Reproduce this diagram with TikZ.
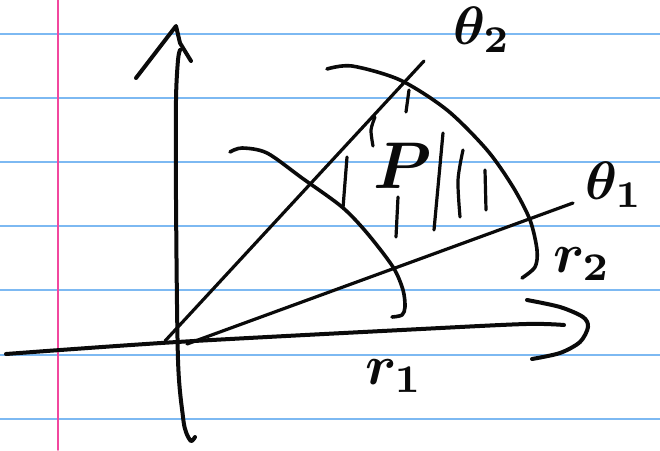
\documentclass[tikz,border=0pt]{standalone}
\usetikzlibrary{calc}
\definecolor{nbInk}{HTML}{0A0A0A}
\definecolor{nbRule}{HTML}{7DB9F2}
\definecolor{nbMargin}{HTML}{F2479E}
\tikzset{
 sketch/.style={x=1pt,y=-1pt,line cap=round,line join=round},
 rule/.style={draw=nbRule,line width=1.6pt},
 margin/.style={draw=nbMargin,line width=1.8pt},
 axis/.style={draw=nbInk,line width=4pt},
 ray/.style={draw=nbInk,line width=3.2pt},
 radius arc/.style={draw=nbInk,line width=3.6pt},
 hatch/.style={draw=nbInk,line width=3.2pt},
 hand/.style={font=\normalsize\boldmath,text=nbInk,inner sep=0pt},
 anglelabel/.style={hand,scale=5.4,transform shape},
 radiuslabel/.style={hand,scale=5.6,transform shape},
 regionlabel/.style={hand,scale=6.6,transform shape}
}

\begin{document}
\begin{tikzpicture}[sketch]
 \fill[white] (0,0) rectangle (660,450);
 \useasboundingbox (0,0) rectangle (660,450);
 % ruled paper
 \foreach \y in {34,98,162,226,290,355,419}{\draw[rule] (0,\y) -- (660,\y);}
 \draw[margin] (58,0) -- (58,450);
 % axes
 \coordinate (o) at (177,343);
 \draw[axis] plot[smooth] coordinates {(195,437) (191,441) (186,432) (183,417) (178,360) (176,200) (176,100) (178,60) (180,50)};
 \draw[axis] (136,78) -- (176,26) -- (180,43) -- (191,61);
 \draw[axis] plot[smooth] coordinates {(6,354) (177,342) (421,329) (526,324) (564,325)};
 \draw[axis] plot[smooth] coordinates {(527,300) (560,307) (583,317) (588,327) (580,342) (560,353) (532,359)};
 % rays
 \coordinate (a2) at (165,341); \coordinate (b2) at (424,61);
 \coordinate (a1) at (187,344); \coordinate (b1) at (573,203);
 \draw[ray] (a2) -- (b2);
 \draw[ray] (a1) -- (b1);
 % arcs
 \draw[radius arc] plot[smooth] coordinates {(230,152) (242,148) (267,153) (302,178) (342,207) (367,233) (393,267) (403,290) (405,307) (402,315) (392,317)};
 \draw[radius arc] plot[smooth] coordinates {(327,69) (352,66) (400,80) (447,110) (487,150) (513,187) (530,220) (537,250) (535,267) (522,278)};
 % shading strokes
 \foreach \xa/\ya/\xb/\yb in {409/90/406/112,347/157/343/208,398/197/396/237,443/133/434/230,485/170/486/210}
  {\draw[hatch] (\xa,\ya) -- (\xb,\yb);}
 \draw[hatch] plot[smooth] coordinates {(375,117) (371,130) (373,146)};
 \draw[hatch] plot[smooth] coordinates {(463,150) (458,180) (460,217)};
 % labels
 \node[regionlabel] (p) at (403,166) {$P$};
 \node[anglelabel] (t2) at (482,30) {$\theta_2$};
 \node[anglelabel] (t1) at (614,185) {$\theta_1$};
 \node[radiuslabel] (r2) at (582,264) {$r_2$};
 \node[radiuslabel] (r1) at (394,376) {$r_1$};
\end{tikzpicture}
\end{document}
